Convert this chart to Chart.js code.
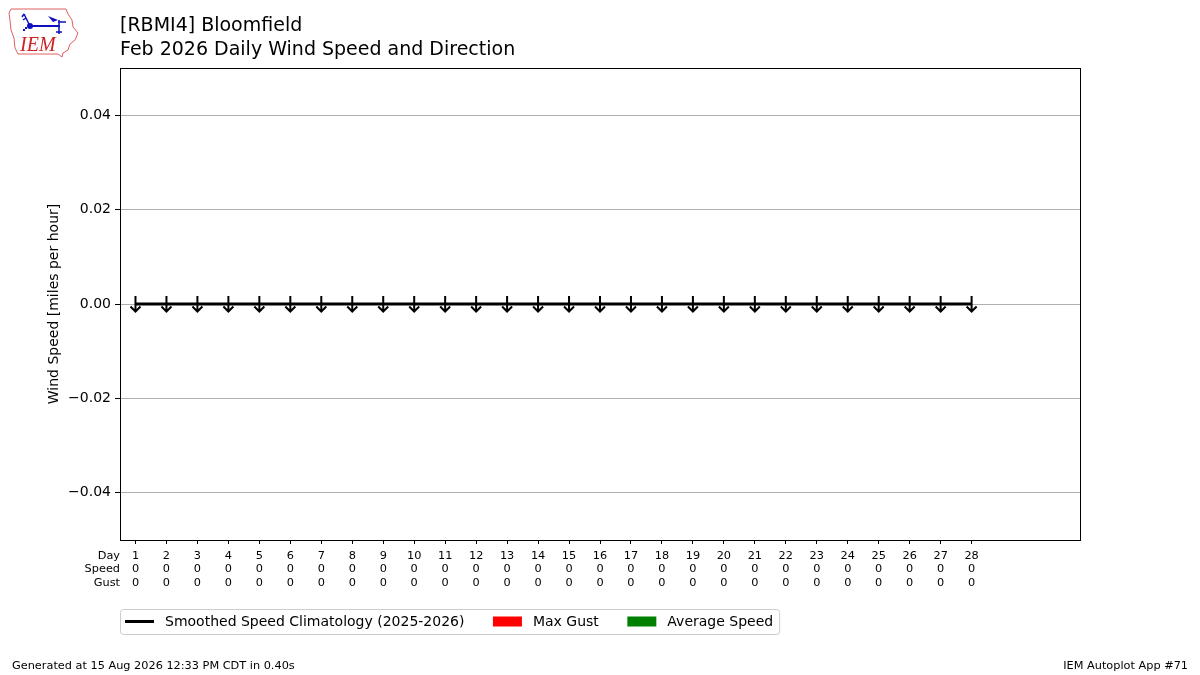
<!DOCTYPE html>
<html><head><meta charset="utf-8">
<script src="https://cdn.jsdelivr.net/npm/chart.js@4.4.1/dist/chart.umd.min.js"></script>
<style>html,body{margin:0;padding:0;background:#fff}#wrap{width:1200px;height:675px;position:relative}</style>
</head><body><div id="wrap"><canvas id="c" width="1200" height="675"></canvas></div>
<script>
const titleLines = ["[RBMI4] Bloomfield", "Feb 2026 Daily Wind Speed and Direction"];
const days = [1,2,3,4,5,6,7,8,9,10,11,12,13,14,15,16,17,18,19,20,21,22,23,24,25,26,27,28];
const avgSpeed = [0,0,0,0,0,0,0,0,0,0,0,0,0,0,0,0,0,0,0,0,0,0,0,0,0,0,0,0];
const maxGust = [0,0,0,0,0,0,0,0,0,0,0,0,0,0,0,0,0,0,0,0,0,0,0,0,0,0,0,0];
const climoSpeed = [0,0,0,0,0,0,0,0,0,0,0,0,0,0,0,0,0,0,0,0,0,0,0,0,0,0,0,0];
const windDir = [0,0,0,0,0,0,0,0,0,0,0,0,0,0,0,0,0,0,0,0,0,0,0,0,0,0,0,0];
const yTicks = [-0.04,-0.02,0.00,0.02,0.04];
const rowLabels = ["Day","Speed","Gust"];
const footerLeft = "Generated at 15 Aug 2026 12:33 PM CDT in 0.40s";
const footerRight = "IEM Autoplot App #71";

const FONT = "'DejaVu Sans', sans-serif";

const decor = {
  id:'decor',
  beforeDraw(chart){
    const ctx = chart.ctx;
    ctx.save();
    ctx.fillStyle='#fff'; ctx.fillRect(0,0,chart.width,chart.height);
    // logo
    ctx.strokeStyle='#e06060'; ctx.lineWidth=1;
    ctx.beginPath();
    ctx.moveTo(11,9);ctx.lineTo(66,9);ctx.lineTo(68,14);ctx.lineTo(72,20);ctx.lineTo(73,27);
    ctx.lineTo(78,33);ctx.lineTo(75,40);ctx.lineTo(70,44);ctx.lineTo(68,50);ctx.lineTo(63,53);ctx.lineTo(62,57);
    ctx.lineTo(58,54);ctx.lineTo(18,54);ctx.lineTo(15,48);ctx.lineTo(14,38);ctx.lineTo(11,30);ctx.lineTo(10,20);ctx.lineTo(9,13);ctx.closePath();
    ctx.stroke();
    ctx.strokeStyle='#1010c0'; ctx.fillStyle='#1010c0'; ctx.lineWidth=2;
    ctx.beginPath();ctx.moveTo(30,26);ctx.lineTo(60,26);ctx.stroke();
    ctx.beginPath();ctx.arc(30,26,3,0,Math.PI*2);ctx.fill();
    ctx.lineWidth=1.5;
    ctx.beginPath();ctx.moveTo(30,26);ctx.lineTo(24,14);ctx.moveTo(24,14);ctx.lineTo(22,17);ctx.moveTo(26,18);ctx.lineTo(23,20);ctx.stroke();
    ctx.beginPath();ctx.moveTo(48,16);ctx.lineTo(58,20);ctx.lineTo(53,22);ctx.closePath();ctx.fill();
    ctx.beginPath();ctx.moveTo(59,20);ctx.lineTo(59,34);ctx.moveTo(56,32);ctx.lineTo(62,32);ctx.moveTo(58,22);ctx.lineTo(66,22);ctx.stroke();
    ctx.fillRect(23,29,2,2);ctx.fillRect(25,27,2,2);
    ctx.fillStyle='#d02020'; ctx.font="italic 20px 'Liberation Serif', serif"; ctx.textBaseline='alphabetic'; ctx.textAlign='left';
    ctx.fillText('IEM',20,51);
    // titles
    ctx.fillStyle='#000'; ctx.font="19px "+FONT;
    ctx.fillText(titleLines[0],120,30.5);
    ctx.fillText(titleLines[1],120,54.5);
    // footer
    ctx.font="11.3px "+FONT;
    ctx.fillText(footerLeft,12,669);
    ctx.textAlign='right';
    ctx.fillText(footerRight,1188,669);
    ctx.restore();
  },
  afterDraw(chart){
    const ctx = chart.ctx, a = chart.chartArea;
    ctx.save();
    // frame
    ctx.strokeStyle='#000'; ctx.lineWidth=1;
    ctx.strokeRect(Math.round(a.left)+0.5,Math.round(a.top)+0.5,Math.round(a.right-a.left),Math.round(a.bottom-a.top));
    // row labels
    ctx.fillStyle='#000'; ctx.font="11.3px "+FONT; ctx.textAlign='right'; ctx.textBaseline='middle';
    rowLabels.forEach((t,i)=>ctx.fillText(t,a.left,a.bottom+16+i*13.5));
    // legend
    const lx=a.left, ly=609, lh=25;
    ctx.font="14px "+FONT; ctx.textAlign='left'; ctx.textBaseline='middle';
    const ds = chart.data.datasets;
    const items=[ds[0],ds[1],ds[2]];
    let x=lx+5; const cy=ly+lh/2;
    const parts=[];
    items.forEach(d=>{parts.push({d,x}); x+=29+11+ctx.measureText(d.label).width+28.5;});
    const lw = x-28.5+6-lx;
    ctx.strokeStyle='#cccccc'; ctx.lineWidth=1;
    ctx.beginPath(); ctx.roundRect(lx+0.5,ly+0.5,lw,lh,3); ctx.stroke();
    parts.forEach(p=>{
      if(p.d.type==='line'){
        ctx.strokeStyle=p.d.borderColor; ctx.lineWidth=3;
        ctx.beginPath(); ctx.moveTo(p.x,cy); ctx.lineTo(p.x+29,cy); ctx.stroke();
      } else {
        ctx.fillStyle=p.d.backgroundColor; ctx.fillRect(p.x,cy-5,29,10);
      }
      ctx.fillStyle='#000'; ctx.fillText(p.d.label,p.x+40,cy+1);
    });
    ctx.restore();
  },
  afterDatasetsDraw(chart){
    const ctx=chart.ctx, xs=chart.scales.x, ys=chart.scales.y;
    ctx.save();
    ctx.strokeStyle='#000'; ctx.lineWidth=2; ctx.lineCap='butt';
    days.forEach((d,i)=>{
      const px=xs.getPixelForValue(d), py=ys.getPixelForValue(avgSpeed[i]);
      ctx.save(); ctx.translate(px,py); ctx.rotate(windDir[i]*Math.PI/180);
      ctx.beginPath(); ctx.moveTo(0,-8); ctx.lineTo(0,7);
      ctx.moveTo(-5,2.5); ctx.lineTo(0,7.5); ctx.lineTo(5,2.5); ctx.stroke();
      ctx.restore();
    });
    ctx.restore();
  }
};

new Chart(document.getElementById('c'),{
  data:{datasets:[
    {type:'line',label:'Smoothed Speed Climatology (2025-2026)',data:days.map((d,i)=>({x:d,y:climoSpeed[i]})),borderColor:'#000',borderWidth:3,pointRadius:0,order:0},
    {type:'bar',label:'Max Gust',data:days.map((d,i)=>({x:d,y:maxGust[i]})),backgroundColor:'#ff0000',order:2},
    {type:'bar',label:'Average Speed',data:days.map((d,i)=>({x:d,y:avgSpeed[i]})),backgroundColor:'#008000',order:1}
  ]},
  plugins:[decor],
  options:{
    responsive:false,animation:false,devicePixelRatio:1,
    layout:{padding:{left:0,right:120,top:68,bottom:0}},
    plugins:{legend:{display:false},tooltip:{enabled:false}},
    scales:{
      x:{type:'linear',min:0.5,max:31.5,offset:false,
        afterBuildTicks(s){s.ticks=days.map(d=>({value:d}));},
        afterFit(s){s.height=135;},
        grid:{display:true,offset:false,drawOnChartArea:false,drawTicks:true,tickLength:4,tickColor:'#000'},
        border:{display:false},
        ticks:{autoSkip:false,maxRotation:0,padding:5,color:'#000',font:{family:FONT,size:11.3,lineHeight:1.2},
          callback(v){const i=days.indexOf(v); if(i<0) return ''; return [String(days[i]),String(avgSpeed[i]),String(maxGust[i])];}}
      },
      y:{type:'linear',min:-0.05,max:0.05,
        afterBuildTicks(s){s.ticks=yTicks.map(v=>({value:v}));},
        afterFit(s){s.width=120;},
        grid:{color:'#b0b0b0',lineWidth:1,drawTicks:true,tickLength:5,tickColor:'#000'},
        border:{display:false},
        ticks:{color:'#000',padding:4,font:{family:FONT,size:14},callback(v){return v.toFixed(2).replace('-','\u2212');}},
        title:{display:true,text:'Wind Speed [miles per hour]',color:'#000',font:{family:FONT,size:14},padding:{top:46,bottom:0}}
      }
    }
  }
});
</script></body></html>
